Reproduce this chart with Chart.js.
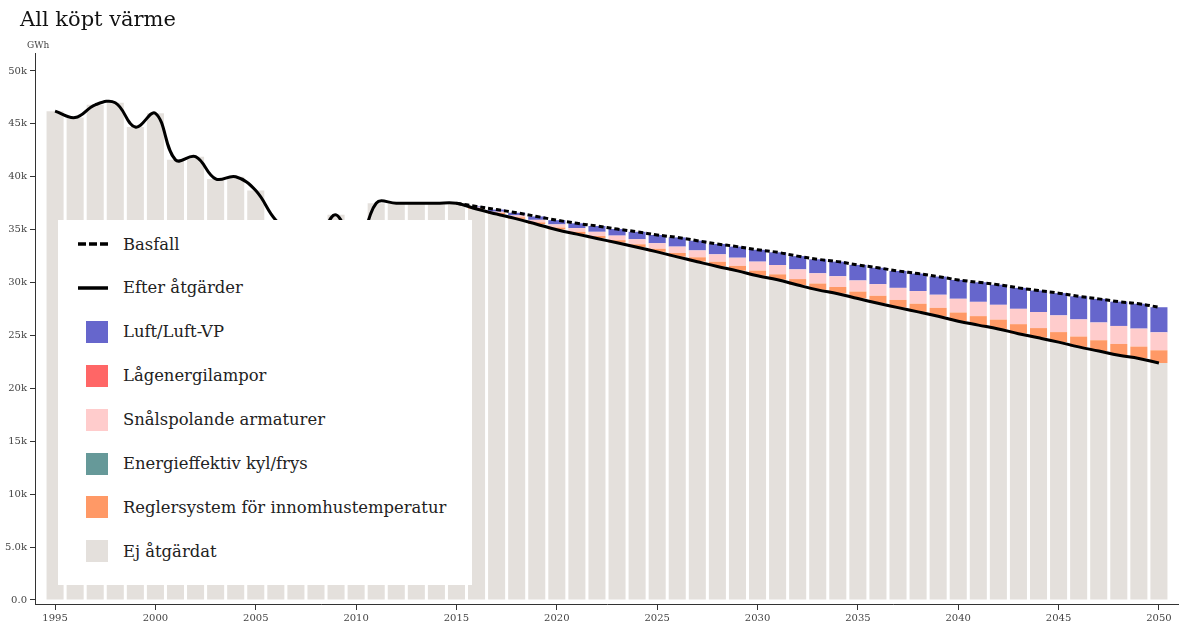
<!DOCTYPE html>
<html>
<head>
<meta charset="utf-8">
<script src="https://cdn.jsdelivr.net/npm/chart.js@4"></script>
<style>
  body { margin:0; background:#fff; font-family:"DejaVu Serif", serif; }
  #wrap { position:relative; width:1179px; height:634px; }
  #title { position:absolute; left:20px; top:7px; font-size:21px; color:#111; }
  #unit { position:absolute; left:27px; top:40px; font-size:9px; color:#444; }
  #legend { position:absolute; left:58px; top:220px; width:414px; height:365px; background:#fff; }
  .li { position:absolute; left:0; height:24px; display:flex; align-items:center; font-size:16.4px; color:#222; white-space:nowrap; }
  .li svg { margin-left:20px; margin-right:15px; }
</style>
</head>
<body>
<div id="wrap">
  <canvas id="chart" width="1179" height="634"></canvas>
  <div id="title">All köpt värme</div>
  <div id="unit">GWh</div>
  <div id="legend"></div>
</div>
<script>
const years = [1995,1996,1997,1998,1999,2000,2001,2002,2003,2004,2005,2006,2007,2008,2009,2010,2011,2012,2013,2014,
  2015,2016,2017,2018,2019,2020,2021,2022,2023,2024,2025,2026,2027,2028,2029,2030,2031,2032,2033,2034,
  2035,2036,2037,2038,2039,2040,2041,2042,2043,2044,2045,2046,2047,2048,2049,2050];
const futureYears = [2015,2016,2017,2018,2019,2020,2021,2022,2023,2024,2025,2026,2027,2028,2029,2030,2031,2032,2033,2034,
  2035,2036,2037,2038,2039,2040,2041,2042,2043,2044,2045,2046,2047,2048,2049,2050];
const xTicks = [1995,2000,2005,2010,2015,2020,2025,2030,2035,2040,2045,2050];
const yTicks = [0,5000,10000,15000,20000,25000,30000,35000,40000,45000,50000];

// historiskt utfall 1995-2014 (GWh)
const histTotal = [46200,45600,46800,47000,44700,46000,41600,41900,39800,40000,38700,35900,34500,34000,36400,32800,37500,37500,37500,37500];

// prognos 2015-2050 (GWh)
const basfall = [37500,37200,36900,36600,36250,35900,35600,35350,35060,34800,34500,34270,33960,33650,33400,33100,32860,32500,32200,31980,
  31670,31400,31100,30850,30570,30250,30030,29800,29500,29250,29000,28700,28460,28200,28000,27670];
const ejAtgardat = [37500,36950,36480,36020,35510,35000,34580,34170,33760,33340,32900,32430,31970,31520,31110,30640,30260,29770,29310,28950,
  28490,28050,27630,27230,26810,26350,25980,25620,25170,24780,24370,23920,23530,23130,22830,22400];
const luftVP = [0,100,200,250,320,400,450,550,620,700,780,870,920,980,1050,1120,1200,1250,1320,1380,
  1470,1550,1600,1650,1720,1780,1850,1900,1980,2030,2100,2180,2230,2300,2350,2370];
const lagenergi = [0,0,0,0,0,0,0,0,0,0,0,0,0,0,0,0,0,0,0,0,0,0,0,0,0,0,0,0,0,0,0,0,0,0,0,0];
const snalspol = [0,80,120,180,240,300,350,400,430,480,520,600,650,700,770,850,880,920,970,1020,
  1050,1100,1140,1200,1240,1300,1350,1400,1450,1520,1580,1620,1680,1700,1700,1700];
const kylfrys = [0,0,0,0,0,0,0,0,0,0,0,0,0,0,0,0,0,0,0,0,0,0,0,0,0,0,0,0,0,0,0,0,0,0,0,0];
const regler = [0,70,100,150,180,200,220,230,250,280,300,370,420,450,470,490,520,560,600,630,
  660,700,730,770,800,820,850,880,900,920,950,980,1020,1070,1120,1200];

// utfall + kvarvarande efter åtgärder, 1995-2050
const grayBars = histTotal.concat(ejAtgardat);

const COLORS = { luft:'#6666cc', lag:'#ff6666', snal:'#ffcccc', kyl:'#669999', regler:'#ff9966', ej:'#e4e0dc' };

const pts = (xs, ys) => xs.map((x, i) => ({ x, y: ys[i] }));
const FONT = 'DejaVu Serif';

function fmtK(v) {
  if (v === 0) return '0.0';
  if (v < 10000) return (v / 1000).toFixed(1) + 'k';
  return Math.round(v / 1000) + 'k';
}

const barDs = (label, xs, data, color) => ({
  type:'bar', label, data: pts(xs, data), backgroundColor: color, borderWidth:0,
  stack:'bars', order:1, barPercentage:1, categoryPercentage:0.85
});

const datasets = [
  { type:'line', label:'Basfall', data: pts(futureYears, basfall), borderColor:'#000', borderWidth:3,
    borderDash:[5,3], pointRadius:0, tension:0.4, stack:'l1', order:0, fill:false },
  { type:'line', label:'Efter åtgärder', data: pts(years, grayBars), borderColor:'#000', borderWidth:3,
    pointRadius:0, tension:0.4, stack:'l2', order:0, fill:false },
  barDs('Ej åtgärdat', years, grayBars, COLORS.ej),
  barDs('Reglersystem för innomhustemperatur', futureYears, regler, COLORS.regler),
  barDs('Energieffektiv kyl/frys', futureYears, kylfrys, COLORS.kyl),
  barDs('Snålspolande armaturer', futureYears, snalspol, COLORS.snal),
  barDs('Lågenergilampor', futureYears, lagenergi, COLORS.lag),
  barDs('Luft/Luft-VP', futureYears, luftVP, COLORS.luft)
];

const chart = new Chart(document.getElementById('chart').getContext('2d'), {
  type:'bar',
  data:{ datasets },
  options:{
    responsive:false,
    animation:false,
    layout:{ padding:{ left:0, right:0, top:53, bottom:0 } },
    plugins:{ legend:{ display:false }, tooltip:{ enabled:false } },
    scales:{
      x:{
        type:'linear', min:1994, max:2051, stacked:true, offset:false,
        grid:{ drawOnChartArea:false, offset:false, tickLength:6, color:'#333' },
        border:{ color:'#333', width:1 },
        ticks:{ callback: v => String(v), maxRotation:0, autoSkip:false,
                font:{ family:FONT, size:10 }, color:'#444', padding:2 },
        afterBuildTicks(s) { s.ticks = xTicks.map(v => ({ value: v })); },
        afterFit(s) { s.height = 30; }
      },
      y:{
        min:-380, max:51700, stacked:true,
        grid:{ drawOnChartArea:false, tickLength:5, color:'#333' },
        border:{ color:'#333', width:1 },
        ticks:{ callback: v => fmtK(v), autoSkip:false,
                font:{ family:FONT, size:10 }, color:'#444', padding:3 },
        afterBuildTicks(s) { s.ticks = yTicks.map(v => ({ value: v })); },
        afterFit(s) { s.width = 35; }
      }
    }
  }
});

// legend box like the original, drawn from the dataset definitions
const legendOrder = ['Basfall','Efter åtgärder','Luft/Luft-VP','Lågenergilampor','Snålspolande armaturer',
  'Energieffektiv kyl/frys','Reglersystem för innomhustemperatur','Ej åtgärdat'];
const legendEl = document.getElementById('legend');
legendOrder.forEach((name, i) => {
  const ds = chart.data.datasets.find(d => d.label === name);
  let sym;
  if (ds.type === 'line') {
    const dash = ds.borderDash ? 'stroke-dasharray="8 3"' : '';
    sym = `<svg width="30" height="24"><line x1="0" y1="12" x2="30" y2="12" stroke="#000" stroke-width="3.5" ${dash}/></svg>`;
  } else {
    sym = `<svg width="30" height="24"><rect x="8" y="1" width="22" height="22" fill="${ds.backgroundColor}"/></svg>`;
  }
  const row = document.createElement('div');
  row.className = 'li';
  row.style.top = (12 + i * 43.9) + 'px';
  row.innerHTML = sym + '<span>' + name + '</span>';
  legendEl.appendChild(row);
});
</script>
</body>
</html>
